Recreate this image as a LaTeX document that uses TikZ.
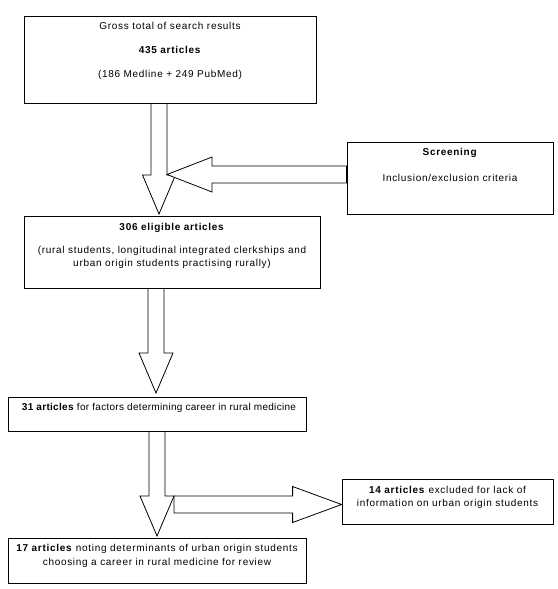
\documentclass[tikz,border=0pt]{standalone}
\usepackage{fontspec}
\setmainfont{Liberation Sans}[LetterSpace=7]
\newfontfamily\tightfont{Liberation Sans}[LetterSpace=3]
\usetikzlibrary{calc,positioning}

% hollow block arrow: tail, tip, shaft half-width, head half-width, head length
\newcommand{\fatarrow}[5]{%
  \coordinate (fa-base) at ($(#2)!#5!(#1)$);
  \draw[blockarrow]
    ($(#1)!#3!90:(#2)$) -- ($(fa-base)!#3!90:(#2)$) -- ($(fa-base)!#4!90:(#2)$)
    -- (#2) -- ($(fa-base)!#4!-90:(#2)$) -- ($(fa-base)!#3!-90:(#2)$)
    -- ($(#1)!#3!-90:(#2)$) -- cycle;}

\begin{document}
\begin{tikzpicture}[
  x=1pt, y=-1pt,
  font=\fontsize{10}{13.5}\selectfont,
  box/.style={draw, line width=.8pt, inner sep=0pt},
  boxtext/.style={align=center, inner sep=0pt},
  blockarrow/.style={draw, fill=white, line width=.8pt, line join=miter}
]

\fill[white] (0,0) rectangle (557,589);
\useasboundingbox (0,0) rectangle (557,589);

% boxes
\node[box, minimum width=292, minimum height=87] (gross) at (170,59.5) {};
\node[box, minimum width=206, minimum height=72] (screen) at (450,178) {};
\node[box, minimum width=296, minimum height=72] (eligible) at (172,252) {};
\node[box, minimum width=298, minimum height=34] (factors) at (157,414) {};
\node[box, minimum width=211, minimum height=45] (excluded) at (447.5,501.5) {};
\node[box, minimum width=298, minimum height=45] (review) at (157,560.5) {};

% box texts
\node[boxtext, below=6.5pt of gross.north] (grosstext)
  {Gross total of search results\\[10.5pt]\textbf{435 articles}\\[10.5pt](186 Medline + 249 PubMed)};
\node[boxtext, below=6.5pt of screen.north] (screentext)
  {\textbf{Screening}\\[12.5pt]Inclusion/exclusion criteria};
\node[boxtext, below=7pt of eligible.north] (eligibletext)
  {\textbf{306 eligible articles}\\[9.5pt](rural students, longitudinal integrated clerkships and\\urban origin students practising rurally)};
\node[boxtext, font=\fontsize{10}{13.5}\tightfont, below=6.5pt of factors.north, xshift=2pt] (factorstext)
  {\textbf{31 articles} for factors determining career in rural medicine};
\node[boxtext, below=7pt of excluded.north] (excludedtext)
  {\textbf{14 articles} excluded for lack of\\information on urban origin students};
\node[boxtext, below=6.5pt of review.north] (reviewtext)
  {\textbf{17 articles} noting determinants of urban origin students\\choosing a career in rural medicine for review};

% arrow ends
\coordinate (t1) at (159,0 |- gross.south);
\coordinate (h1) at (159,214);
\coordinate (ts) at (screen.west |- 0,174.5);
\coordinate (hs) at (167,174.5);
\coordinate (t2) at (156,0 |- eligible.south);
\coordinate (h2) at (156,393);
\coordinate (t3) at (157,0 |- factors.south);
\coordinate (h3) at (157,536);
\coordinate (tx) at (174,504.5);
\coordinate (hx) at (excluded.west |- 0,504.5);

% block arrows
\fatarrow{t1}{h1}{8pt}{16.5pt}{39pt}
\fatarrow{ts}{hs}{8.5pt}{17.5pt}{45pt}
\fatarrow{t2}{h2}{8pt}{17pt}{40pt}
\fatarrow{t3}{h3}{8pt}{17pt}{40pt}
\fatarrow{tx}{hx}{8.5pt}{18pt}{49pt}

\end{tikzpicture}
\end{document}
